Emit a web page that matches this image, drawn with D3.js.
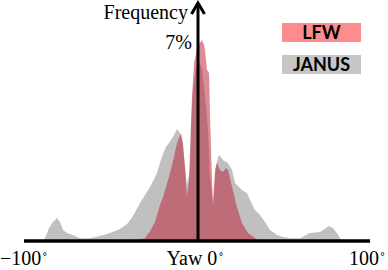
<!DOCTYPE html>
<html>
<head>
<meta charset="utf-8">
<script src="https://cdn.jsdelivr.net/npm/d3@7"></script>
<style>
  body { margin: 0; background: #fff; }
  svg { display: block; }
</style>
</head>
<body>
<div id="chart"></div>
<script>
// yaw (degrees) and frequency (%)
var janusYaw = [-89.6, -87.9, -86.1, -83.8, -81.5, -79.8, -78.0, -75.7, -72.3, -68.2, -62.4, -56.6, -50.9, -45.1, -41.0, -37.6, -33.5, -30.6, -27.7, -23.7, -22.0, -20.8, -18.5, -16.8, -14.5, -12.1, -10.4, -8.7, -7.5, -6.4, -5.2, -4.0, -2.9, -1.2, 0.6, 2.3, 4.0, 5.8, 6.9, 8.7, 10.4, 12.1, 14.5, 17.3, 19.7, 21.4, 25.4, 28.3, 30.1, 32.9, 35.8, 38.7, 41.6, 45.7, 49.1, 53.2, 59.0, 64.7, 70.5, 73.4, 75.7, 78.0, 79.8, 81.5, 82.7];
var janusFreq = [0, 0.17, 0.45, 0.66, 0.80, 0.66, 0.38, 0.28, 0.21, 0.10, 0.10, 0.17, 0.28, 0.42, 0.59, 0.87, 1.32, 1.60, 1.88, 2.37, 2.72, 2.93, 3.27, 3.41, 3.62, 3.90, 3.76, 3.34, 2.65, 1.95, 2.30, 4.21, 5.26, 6.02, 6.23, 6.02, 5.08, 3.87, 2.30, 1.25, 2.65, 3.00, 2.82, 2.72, 2.47, 2.02, 1.78, 1.67, 1.43, 1.08, 0.91, 0.66, 0.38, 0.21, 0.14, 0.10, 0.10, 0.28, 0.31, 0.42, 0.52, 0.45, 0.31, 0.17, 0];

var lfwYaw = [-42.2, -39.3, -33.5, -30.6, -27.7, -24.9, -22.0, -20.2, -18.5, -16.8, -15.0, -13.9, -12.1, -9.8, -8.7, -7.5, -6.4, -5.2, -4.6, -3.5, -2.3, -0.6, 1.2, 2.3, 3.5, 4.0, 5.2, 6.4, 6.9, 7.5, 8.1, 8.7, 9.8, 11.0, 12.7, 14.5, 16.2, 17.3, 19.7, 22.5, 25.4, 28.9, 34.7, 38.7];
var lfwFreq = [0, 0.03, 0.07, 0.10, 0.35, 0.66, 1.25, 1.53, 1.88, 2.23, 2.65, 2.93, 3.41, 3.76, 3.41, 2.47, 1.53, 2.12, 2.72, 5.01, 6.20, 6.65, 6.90, 7.00, 6.83, 6.65, 5.96, 5.85, 4.46, 3.27, 2.12, 1.32, 2.47, 2.72, 2.47, 2.40, 2.54, 2.47, 1.88, 1.18, 0.63, 0.28, 0.03, 0];

var seriesNames = ["LFW", "JANUS"];
var xTickLabels = ["\u2212100", "Yaw 0", "100"];

var width = 388, height = 270;
var x = d3.scaleLinear().domain([-100, 100]).range([25, 371]);
var y = d3.scaleLinear().domain([0, 7]).range([241, 40]);

var svg = d3.select("#chart").append("svg")
  .attr("width", width)
  .attr("height", height);

function toPoints(xs, ys) {
  return xs.map(function(v, i) { return [v, ys[i]]; });
}

var area = d3.area()
  .x(function(d) { return x(d[0]); })
  .y0(y(0))
  .y1(function(d) { return y(d[1]); })
  .curve(d3.curveLinear);

// JANUS underneath, LFW on top semi transparent
svg.append("path")
  .datum(toPoints(janusYaw, janusFreq))
  .attr("fill", "#c0c0c0")
  .attr("d", area);

svg.append("path")
  .datum(toPoints(lfwYaw, lfwFreq))
  .attr("fill", "#bb172d")
  .attr("fill-opacity", 0.5)
  .attr("d", area);

// axes
svg.append("line")
  .attr("x1", 24).attr("x2", 370)
  .attr("y1", y(0)).attr("y2", y(0))
  .attr("stroke", "#000").attr("stroke-width", 3.5);

svg.append("line")
  .attr("x1", x(0)).attr("x2", x(0))
  .attr("y1", y(0) + 1).attr("y2", 3)
  .attr("stroke", "#000").attr("stroke-width", 3);

svg.append("path")
  .attr("d", "M" + (x(0) - 6.5) + ",14L" + x(0) + ",3L" + (x(0) + 6.5) + ",14")
  .attr("fill", "none")
  .attr("stroke", "#000").attr("stroke-width", 3)
  .attr("stroke-linejoin", "miter");

var serif = "'Liberation Serif', 'Times New Roman', serif";

svg.append("text")
  .attr("x", x(0) - 10).attr("y", 19)
  .attr("text-anchor", "end")
  .style("font-family", serif).style("font-size", "20px")
  .text("Frequency");

svg.append("text")
  .attr("x", x(0) - 6).attr("y", 49)
  .attr("text-anchor", "end")
  .style("font-family", serif).style("font-size", "20px")
  .text("7%");

// tick labels with a small degree sign
var tickPos = [-100, 0, 100];
var labels = svg.selectAll(".tick-label")
  .data(xTickLabels)
  .enter().append("text")
  .attr("class", "tick-label")
  .attr("x", function(d, i) { return i === 1 ? x(tickPos[i]) - 3 : (i === 0 ? 0 : x(tickPos[i]) - 22); })
  .attr("y", 265)
  .attr("text-anchor", function(d, i) { return i === 1 ? "middle" : "start"; })
  .style("font-family", serif).style("font-size", "20px")
  .attr("fill", "#000");
labels.append("tspan").text(function(d) { return d; });
labels.append("tspan")
  .attr("dx", 1)
  .attr("dy", -5)
  .style("font-family", "'DejaVu Sans', sans-serif")
  .style("font-size", "10px")
  .text("\u00b0");

// legend
var legendColors = ["#ff8c8c", "#c6c6c6"];
var legend = svg.selectAll(".legend")
  .data(seriesNames)
  .enter().append("g")
  .attr("class", "legend")
  .attr("transform", function(d, i) { return "translate(282," + (23 + i * 32) + ")"; });

legend.append("rect")
  .attr("width", 79).attr("height", 19)
  .attr("fill", function(d, i) { return legendColors[i]; });

legend.append("text")
  .attr("x", 39.5).attr("y", 16)
  .attr("text-anchor", "middle")
  .style("font-family", "Lato, 'Open Sans', sans-serif")
  .style("font-weight", "bold")
  .style("font-size", "18px")
  .text(function(d) { return d; });
</script>
</body>
</html>
